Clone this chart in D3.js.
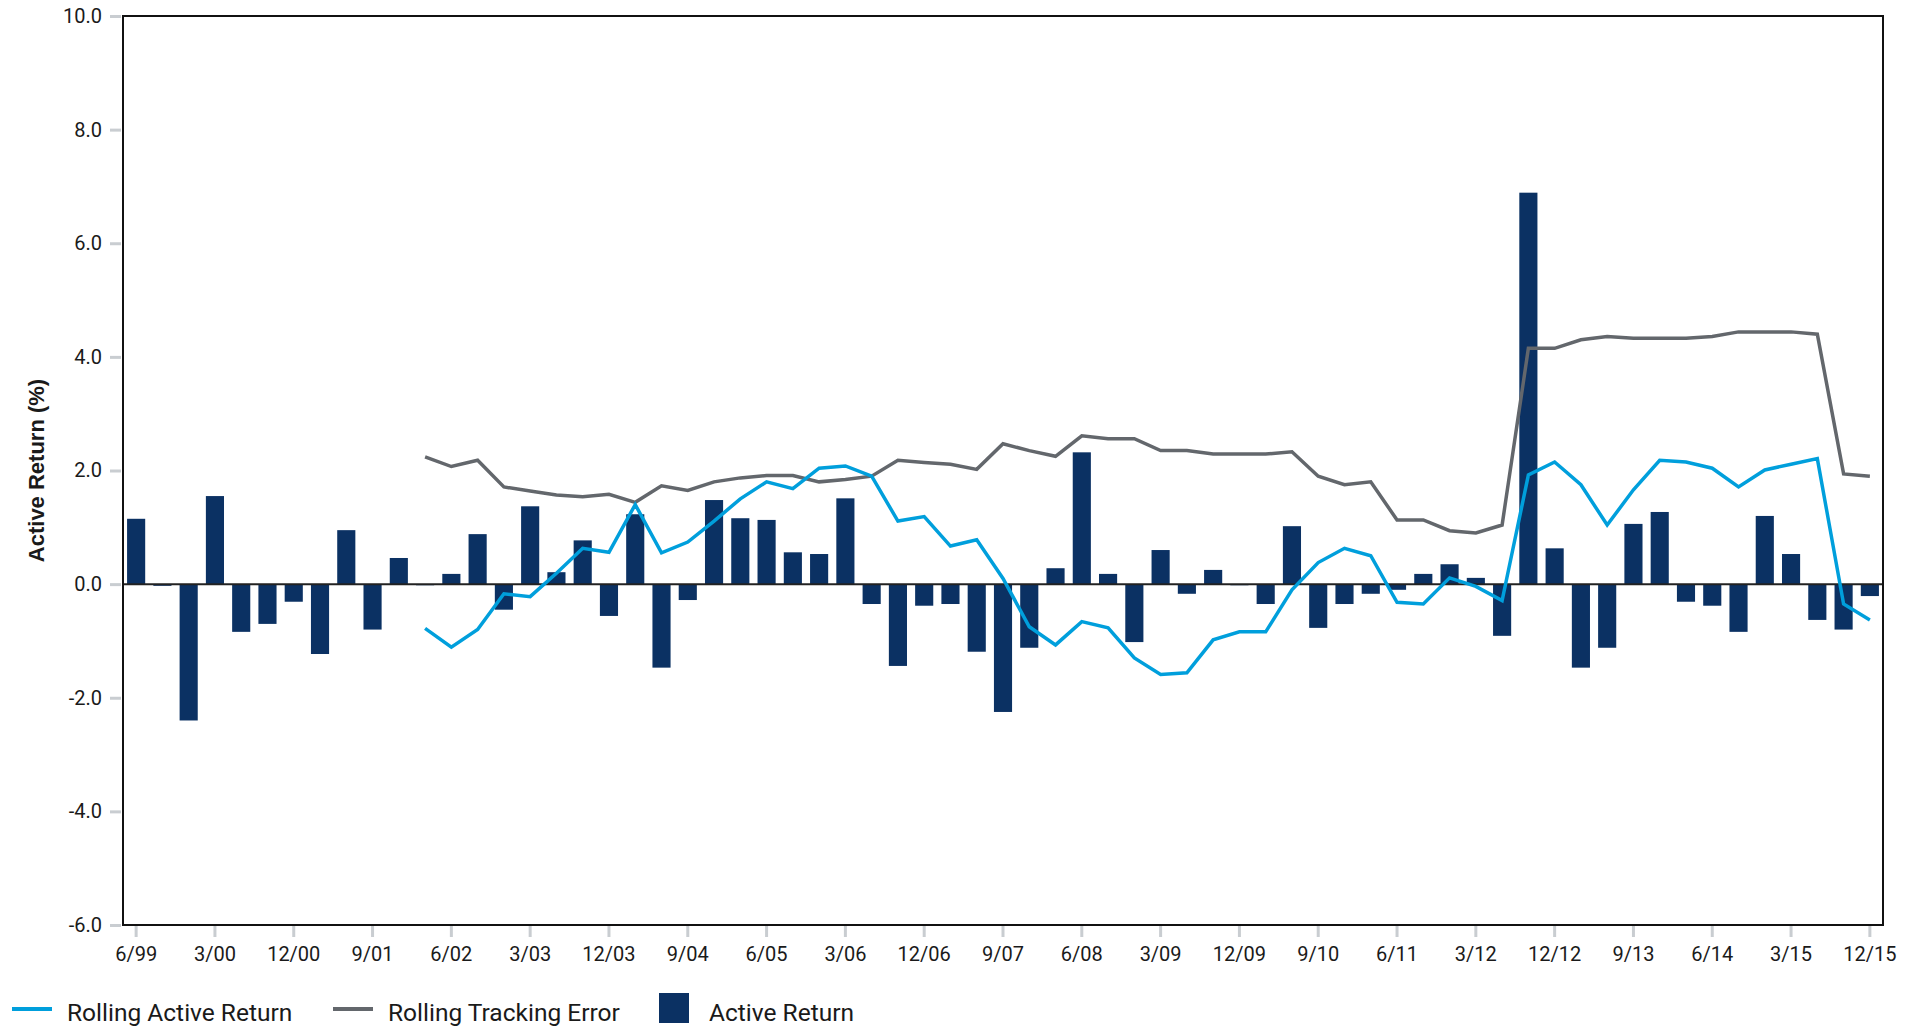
<!DOCTYPE html>
<html>
<head>
<meta charset="utf-8">
<script src="https://cdn.jsdelivr.net/npm/d3@7"></script>
<style>
  html, body { margin: 0; padding: 0; background: #fff; }
  svg { display: block; }
</style>
</head>
<body>
<svg id="chart" width="1919" height="1026"></svg>
<script>
// ---- data ----
const quarters = [
  "6/99","9/99","12/99","3/00","6/00","9/00","12/00","3/01","6/01","9/01","12/01","3/02",
  "6/02","9/02","12/02","3/03","6/03","9/03","12/03","3/04","6/04","9/04","12/04","3/05",
  "6/05","9/05","12/05","3/06","6/06","9/06","12/06","3/07","6/07","9/07","12/07","3/08",
  "6/08","9/08","12/08","3/09","6/09","9/09","12/09","3/10","6/10","9/10","12/10","3/11",
  "6/11","9/11","12/11","3/12","6/12","9/12","12/12","3/13","6/13","9/13","12/13","3/14",
  "6/14","9/14","12/14","3/15","6/15","9/15","12/15"
];

const activeReturn = [
  1.15, -0.03, -2.40, 1.55, -0.84, -0.70, -0.31, -1.23, 0.95, -0.80, 0.46, -0.02,
  0.18, 0.88, -0.45, 1.37, 0.21, 0.77, -0.56, 1.23, -1.47, -0.28, 1.48, 1.16,
  1.13, 0.56, 0.53, 1.51, -0.35, -1.44, -0.38, -0.35, -1.19, -2.25, -1.12, 0.28,
  2.32, 0.18, -1.02, 0.60, -0.17, 0.25, -0.02, -0.35, 1.02, -0.77, -0.35, -0.17,
  -0.10, 0.18, 0.35, 0.11, -0.91, 6.89, 0.63, -1.47, -1.12, 1.06, 1.27, -0.31,
  -0.38, -0.84, 1.20, 0.53, -0.63, -0.80, -0.21
];

const rollingTrackingError = [
  null, null, null, null, null, null, null, null, null, null, null, 2.24,
  2.07, 2.18, 1.71, 1.64, 1.57, 1.54, 1.58, 1.44, 1.73, 1.65, 1.80, 1.87,
  1.91, 1.91, 1.80, 1.84, 1.90, 2.18, 2.14, 2.11, 2.02, 2.47, 2.35, 2.25,
  2.61, 2.56, 2.56, 2.35, 2.35, 2.29, 2.29, 2.29, 2.33, 1.90, 1.75, 1.80,
  1.13, 1.13, 0.94, 0.90, 1.04, 4.15, 4.15, 4.30, 4.36, 4.33, 4.33, 4.33,
  4.36, 4.44, 4.44, 4.44, 4.40, 1.94, 1.90
];

const rollingActiveReturn = [
  null, null, null, null, null, null, null, null, null, null, null, -0.78,
  -1.11, -0.80, -0.17, -0.22, 0.19, 0.63, 0.56, 1.40, 0.55, 0.74, 1.11, 1.50,
  1.80, 1.68, 2.04, 2.08, 1.90, 1.11, 1.19, 0.67, 0.78, 0.10, -0.75, -1.07,
  -0.66, -0.77, -1.30, -1.59, -1.56, -0.98, -0.84, -0.84, -0.10, 0.38, 0.63, 0.50,
  -0.32, -0.35, 0.11, -0.04, -0.29, 1.92, 2.15, 1.75, 1.04, 1.66, 2.18, 2.15,
  2.04, 1.71, 2.01, 2.11, 2.21, -0.35, -0.63
];

const xTickLabels = ["6/99","3/00","12/00","9/01","6/02","3/03","12/03","9/04","6/05","3/06",
  "12/06","9/07","6/08","3/09","12/09","9/10","6/11","3/12","12/12","9/13","6/14","3/15","12/15"];
const yTickValues = [-6, -4, -2, 0, 2, 4, 6, 8, 10];

const legendLabels = ["Rolling Active Return", "Rolling Tracking Error", "Active Return"];

// ---- styles ----
const COLORS = { bar: "#0b3163", blue: "#009fdc", gray: "#63676c", tick: "#c9cdd1", text: "#1a1a1a" };

const M = { left: 123, right: 1883, top: 16, bottom: 925 };
const svg = d3.select("#chart");

const x = d3.scaleBand()
  .domain(quarters)
  .range([M.left, M.right])
  .paddingInner(0.31)
  .paddingOuter(0.155);

const y = d3.scaleLinear().domain([-6, 10]).range([M.bottom, M.top]);

// bars
svg.append("g")
  .selectAll("rect")
  .data(quarters.map((q, i) => ({ q, v: activeReturn[i] })))
  .join("rect")
  .attr("x", d => x(d.q))
  .attr("width", x.bandwidth())
  .attr("y", d => y(Math.max(0, d.v)))
  .attr("height", d => Math.max(1, Math.abs(y(d.v) - y(0))))
  .attr("fill", COLORS.bar);

// zero line
svg.append("line")
  .attr("x1", M.left).attr("x2", M.right)
  .attr("y1", y(0)).attr("y2", y(0))
  .attr("stroke", "#222").attr("stroke-width", 2);

// lines
const lineGen = arr => d3.line()
  .defined(d => d.v !== null)
  .x(d => x(d.q) + x.bandwidth() / 2)
  .y(d => y(d.v))(quarters.map((q, i) => ({ q, v: arr[i] })));

svg.append("path")
  .attr("d", lineGen(rollingTrackingError))
  .attr("fill", "none").attr("stroke", COLORS.gray)
  .attr("stroke-width", 3.5).attr("stroke-linejoin", "miter");

svg.append("path")
  .attr("d", lineGen(rollingActiveReturn))
  .attr("fill", "none").attr("stroke", COLORS.blue)
  .attr("stroke-width", 3.5).attr("stroke-linejoin", "miter");

// y axis
const yAxis = svg.append("g")
  .attr("transform", `translate(${M.left - 2},0)`)
  .call(d3.axisLeft(y).tickValues(yTickValues).tickSize(11).tickPadding(8)
    .tickFormat(d => d.toFixed(1)));
yAxis.select(".domain").remove();
yAxis.selectAll(".tick line").attr("stroke", COLORS.tick).attr("stroke-width", 3);
yAxis.selectAll(".tick text")
  .attr("fill", COLORS.text)
  .style("font-family", "Roboto, 'Noto Sans', sans-serif")
  .style("font-size", "20px");

// x axis
const xAxis = svg.append("g")
  .attr("transform", `translate(0,${M.bottom + 1})`)
  .call(d3.axisBottom(x).tickValues(xTickLabels).tickSize(11).tickPadding(10));
xAxis.select(".domain").remove();
xAxis.selectAll(".tick line").attr("stroke", COLORS.tick).attr("stroke-width", 3);
xAxis.selectAll(".tick text")
  .attr("fill", COLORS.text)
  .style("font-family", "Roboto, 'Noto Sans', sans-serif")
  .style("font-size", "20px");

// frame
svg.append("rect")
  .attr("x", M.left).attr("y", M.top)
  .attr("width", M.right - M.left).attr("height", M.bottom - M.top)
  .attr("fill", "none").attr("stroke", "#111").attr("stroke-width", 2);

// y title
svg.append("text")
  .attr("transform", `translate(44,${(M.top + M.bottom) / 2}) rotate(-90)`)
  .attr("text-anchor", "middle")
  .attr("fill", COLORS.text)
  .style("font-family", "'Liberation Sans', Arial, sans-serif")
  .style("font-weight", "bold")
  .style("font-size", "22px")
  .text("Active Return (%)");

// legend
const lg = svg.append("g")
  .style("font-family", "Roboto, 'Noto Sans', sans-serif")
  .style("font-size", "24.5px");
const legendY = 1009;
lg.append("line").attr("x1", 12).attr("x2", 52).attr("y1", legendY).attr("y2", legendY)
  .attr("stroke", COLORS.blue).attr("stroke-width", 4);
lg.append("text").attr("x", 67).attr("y", 1021).attr("fill", COLORS.text).text(legendLabels[0]);
lg.append("line").attr("x1", 333).attr("x2", 373).attr("y1", legendY).attr("y2", legendY)
  .attr("stroke", COLORS.gray).attr("stroke-width", 4);
lg.append("text").attr("x", 388).attr("y", 1021).attr("fill", COLORS.text).text(legendLabels[1]);
lg.append("rect").attr("x", 659).attr("y", 993).attr("width", 30).attr("height", 30)
  .attr("fill", COLORS.bar);
lg.append("text").attr("x", 709).attr("y", 1021).attr("fill", COLORS.text).text(legendLabels[2]);
</script>
</body>
</html>
